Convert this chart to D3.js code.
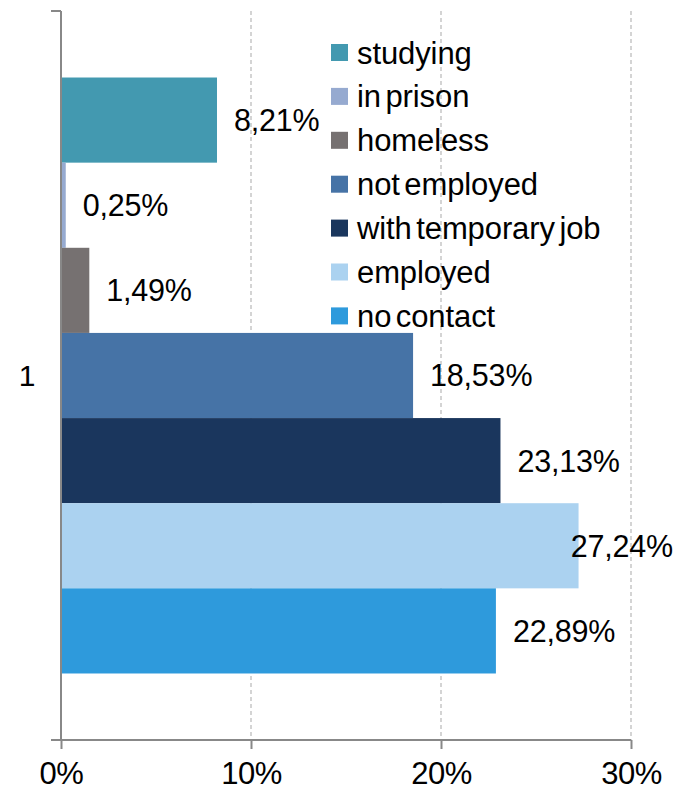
<!DOCTYPE html>
<html>
<head>
<meta charset="utf-8">
<script src="https://cdn.jsdelivr.net/npm/d3@7"></script>
<style>
  html, body { margin: 0; padding: 0; background: #ffffff; }
  svg { display: block; }
  text { font-family: "Liberation Sans", Arial, sans-serif; fill: #000; }
</style>
</head>
<body>
<svg id="chart" width="686" height="792"></svg>
<script>
// Outcome categories (drawn top to bottom) and their shares in percent
const categories = ["1"];
const seriesNames = ["studying", "in prison", "homeless", "not employed", "with temporary job", "employed", "no contact"];
const seriesValues = [8.21, 0.25, 1.49, 18.53, 23.13, 27.24, 22.89];
const seriesColors = ["#4399b0", "#96aad0", "#767171", "#4673a6", "#1a365d", "#abd2f0", "#2e9adc"];
const xTicks = [0, 10, 20, 30];

const svg = d3.select("#chart");
const plot = { left: 61, right: 631, top: 11, bottom: 740 };
const axisColor = "#888888";

const x = d3.scaleLinear().domain([0, 30]).range([plot.left, plot.right]);

// Category band holds the cluster of series bars
const y0 = d3.scaleBand().domain(categories).range([plot.top, plot.bottom])
  .paddingInner(0).paddingOuter(0.1116);
const y1 = d3.scaleBand().domain(seriesNames).range([0, y0.bandwidth()]).padding(0);

// Vertical dashed gridlines
svg.append("g")
  .selectAll("line")
  .data(xTicks.filter(d => d > 0))
  .join("line")
  .attr("x1", d => x(d)).attr("x2", d => x(d))
  .attr("y1", plot.top).attr("y2", plot.bottom)
  .attr("stroke", "#c6c6c6")
  .attr("stroke-width", 1.5)
  .attr("stroke-dasharray", "4,3");

// Bars
const rows = seriesNames.map((name, i) => ({ name, value: seriesValues[i], color: seriesColors[i] }));
const cluster = svg.append("g").attr("transform", `translate(0,${y0(categories[0])})`);
cluster.selectAll("rect")
  .data(rows)
  .join("rect")
  .attr("x", x(0))
  .attr("y", d => y1(d.name))
  .attr("width", d => x(d.value) - x(0))
  .attr("height", y1.bandwidth())
  .attr("fill", d => d.color);

// Value labels, kept inside the chart's right edge
const fmt = v => v.toFixed(2).replace(".", ",") + "%";
const labelMaxRight = 673;
cluster.selectAll("text.value")
  .data(rows)
  .join("text")
  .attr("class", "value")
  .attr("font-size", 30.5)
  .attr("letter-spacing", "-0.2")
  .attr("dominant-baseline", "central")
  .attr("y", d => y1(d.name) + y1.bandwidth() / 2)
  .text(d => fmt(d.value))
  .attr("x", function (d) {
    const w = this.getComputedTextLength();
    return Math.min(x(d.value) + 17, labelMaxRight - w);
  });

// Bottom axis
const xAxis = d3.axisBottom(x).tickValues(xTicks).tickFormat(d => d + "%")
  .tickSize(9).tickSizeOuter(0).tickPadding(13);
const gx = svg.append("g").attr("transform", `translate(0,${plot.bottom})`).call(xAxis);
gx.select(".domain").remove();
gx.selectAll(".tick line").attr("stroke", axisColor).attr("stroke-width", 2);
gx.selectAll(".tick text").attr("font-size", 31).attr("letter-spacing", "-0.5")
  .attr("font-family", "Liberation Sans, Arial, sans-serif").attr("fill", "#000");
gx.append("line")
  .attr("x1", plot.left - 10).attr("x2", plot.right)
  .attr("y1", 0).attr("y2", 0)
  .attr("stroke", axisColor).attr("stroke-width", 2);

// Left category axis with ticks at band boundaries
const gy = svg.append("g");
gy.append("line")
  .attr("x1", plot.left).attr("x2", plot.left)
  .attr("y1", plot.top).attr("y2", plot.bottom)
  .attr("stroke", axisColor).attr("stroke-width", 2);
gy.append("line")
  .attr("x1", plot.left - 10).attr("x2", plot.left)
  .attr("y1", plot.top).attr("y2", plot.top)
  .attr("stroke", axisColor).attr("stroke-width", 2);
gy.selectAll("text")
  .data(categories)
  .join("text")
  .attr("x", 27)
  .attr("y", d => y0(d) + y0.bandwidth() / 2)
  .attr("text-anchor", "middle")
  .attr("dominant-baseline", "central")
  .attr("font-size", 30)
  .text(d => d);

// Legend
const legend = svg.append("g").attr("transform", "translate(331,53)");
const item = legend.selectAll("g")
  .data(rows)
  .join("g")
  .attr("transform", (d, i) => `translate(0,${i * 43.9})`);
item.append("rect")
  .attr("x", 0).attr("y", -9)
  .attr("width", 17).attr("height", 17)
  .attr("fill", d => d.color);
item.append("text")
  .attr("x", 26).attr("y", 0)
  .attr("dominant-baseline", "central")
  .attr("font-size", 31)
  .attr("letter-spacing", "-0.1")
  .attr("word-spacing", "-4")
  .text(d => d.name);
</script>
</body>
</html>
